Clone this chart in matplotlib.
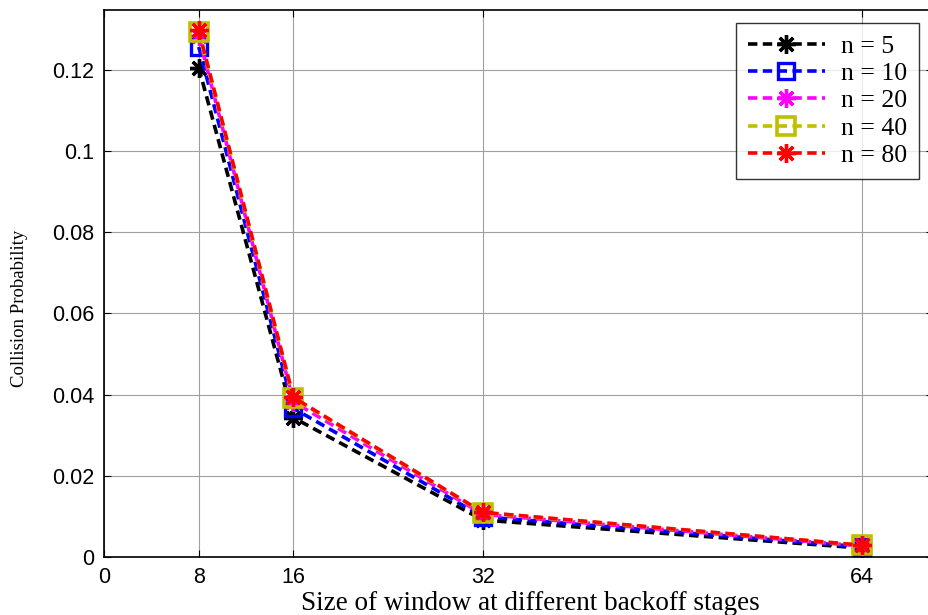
import matplotlib
matplotlib.use("Agg")
import matplotlib.pyplot as plt
from matplotlib.ticker import FixedLocator, FuncFormatter

window_sizes = [8, 16, 32, 64]
p_n5 = [0.1205, 0.0343, 0.0091, 0.0022]
p_n10 = [0.1256, 0.0366, 0.0099, 0.0025]
p_n20 = [0.1282, 0.0382, 0.0105, 0.0027]
p_n40 = [0.1294, 0.0391, 0.0109, 0.0029]
p_n80 = [0.1297, 0.0393, 0.0110, 0.0029]
series_labels = ["n = 5", "n = 10", "n = 20", "n = 40", "n = 80"]
x_ticks = [0, 8, 16, 32, 64]
y_ticks = [0, 0.02, 0.04, 0.06, 0.08, 0.10, 0.12]

W, H = 929, 615
fig = plt.figure(figsize=(W / 100, H / 100), dpi=100)
ax = fig.add_axes([104 / W, (H - 557) / H, 829 / W, 547 / H])

ast = (8, 2, 0)
styles = [
    dict(color="black", marker=ast, ms=13.5, mew=2.4),
    dict(color="#0000ff", marker="s", ms=12, mew=2.4, mfc="none"),
    dict(color="#ff00ff", marker=ast, ms=13.5, mew=2.4),
    dict(color="#bfbf00", marker="s", ms=12.5, mew=2.6, mfc="none"),
    dict(color="#ff0000", marker=ast, ms=13.5, mew=2.4),
]
series = [p_n5, p_n10, p_n20, p_n40, p_n80]
for vals, lab, st in zip(series, series_labels, styles):
    ax.plot(window_sizes, vals, linestyle=(0, (2.6, 1.5)), lw=2.6, label=lab, **st)

ax.set_xlim(0, 70)
ax.set_ylim(0, 0.1347)
ax.xaxis.set_major_locator(FixedLocator(x_ticks))
ax.yaxis.set_major_locator(FixedLocator(y_ticks))
ax.yaxis.set_major_formatter(FuncFormatter(lambda v, p: "%g" % round(v, 4)))
ax.xaxis.set_major_formatter(FuncFormatter(lambda v, p: "%g" % v))
ax.grid(True, color="#a0a0a0", lw=0.8)
ax.set_axisbelow(True)
ax.tick_params(direction="in", length=5, width=0.8, top=True, right=True,
               labelsize=15.5, pad=7)
for lbl in ax.get_xticklabels() + ax.get_yticklabels():
    lbl.set_fontfamily("Liberation Sans")
for s in ax.spines.values():
    s.set_linewidth(1.2)

leg = ax.legend(loc="upper right", bbox_to_anchor=(919 / W, (H - 23) / H),
                bbox_transform=fig.transFigure, frameon=True, fancybox=False,
                edgecolor="black", handlelength=3.0, borderpad=0.45,
                labelspacing=0.17, handletextpad=0.65, borderaxespad=0,
                prop=dict(family="Liberation Serif", size=18.5))
leg.get_frame().set_linewidth(1.0)

fig.text(530 / W, (H - 603) / H, "Size of window at different backoff stages",
         ha="center", va="center", family="Liberation Serif", fontsize=19.5)
fig.text(20 / W, (H - 308) / H, "Collision Probability", rotation=90,
         ha="center", va="center", family="Liberation Serif", fontsize=13.5)

fig.savefig("out.png", dpi=100)
